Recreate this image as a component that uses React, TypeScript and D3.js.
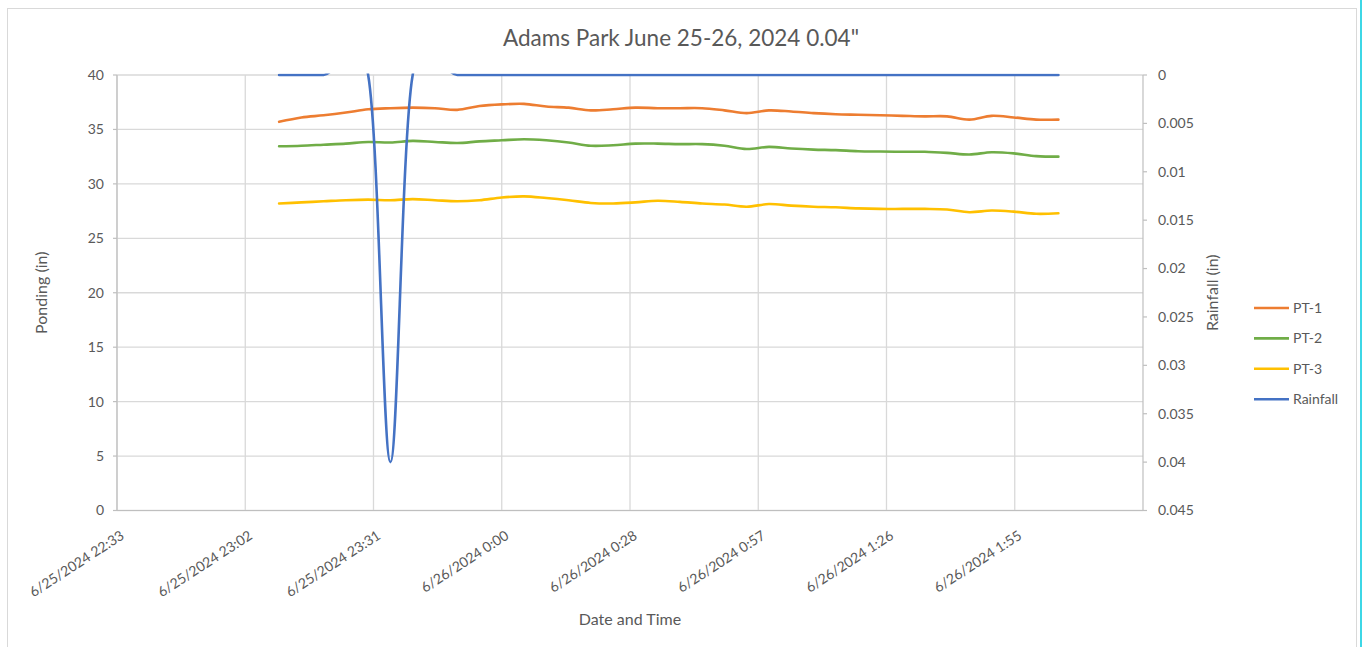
import React from 'react';
import * as d3 from 'd3';

const TITLE = 'Adams Park June 25-26, 2024 0.04"';
const X_TITLE = 'Date and Time';
const Y_LEFT_TITLE = 'Ponding (in)';
const Y_RIGHT_TITLE = 'Rainfall (in)';

const PT_TIMES = [
  '23:10', '23:15', '23:20', '23:25', '23:30', '23:35', '23:40', '23:45', '23:50', '23:55',
  '0:00', '0:05', '0:10', '0:15', '0:20', '0:25', '0:30', '0:35', '0:40', '0:45',
  '0:50', '0:55', '1:00', '1:05', '1:10', '1:15', '1:20', '1:25', '1:30', '1:35',
  '1:40', '1:45', '1:50', '1:55', '2:00', '2:05',
];
const PT1 = [
  35.7, 36.1, 36.3, 36.55, 36.85, 36.95, 37.0, 36.95, 36.8, 37.15,
  37.3, 37.35, 37.1, 37.0, 36.75, 36.85, 37.0, 36.95, 36.95, 36.95,
  36.75, 36.5, 36.75, 36.65, 36.5, 36.4, 36.35, 36.3, 36.25, 36.2,
  36.2, 35.9, 36.25, 36.1, 35.9, 35.9,
];
const PT2 = [
  33.45, 33.5, 33.6, 33.7, 33.85, 33.8, 33.95, 33.85, 33.75, 33.9,
  34.0, 34.1, 34.0, 33.8, 33.5, 33.55, 33.7, 33.7, 33.65, 33.65,
  33.5, 33.2, 33.4, 33.25, 33.15, 33.1, 33.0, 32.97, 32.95, 32.95,
  32.85, 32.7, 32.9, 32.8, 32.55, 32.5,
];
const PT3 = [
  28.2, 28.3, 28.4, 28.5, 28.55, 28.5, 28.6, 28.5, 28.4, 28.5,
  28.75, 28.85, 28.7, 28.5, 28.25, 28.2, 28.3, 28.45, 28.35, 28.2,
  28.1, 27.9, 28.15, 28.0, 27.9, 27.85, 27.75, 27.7, 27.7, 27.7,
  27.65, 27.4, 27.55, 27.45, 27.25, 27.3,
];
const RAIN_TIMES = [
  '23:10', '23:20', '23:30', '23:35', '23:40', '23:50', '0:00', '0:10', '0:20', '0:30',
  '0:40', '0:50', '1:00', '1:10', '1:20', '1:30', '1:40', '1:50', '2:00', '2:05',
];
const RAIN = [
  0, 0, 0, 0.04, 0, 0, 0, 0, 0, 0,
  0, 0, 0, 0, 0, 0, 0, 0, 0, 0,
];

const X_DOMAIN = ['2024-06-25T22:33:36', '2024-06-26T02:24:00'];
const X_TICKS = [
  '2024-06-25T22:33:36', '2024-06-25T23:02:24', '2024-06-25T23:31:12', '2024-06-26T00:00:00',
  '2024-06-26T00:28:48', '2024-06-26T00:57:36', '2024-06-26T01:26:24', '2024-06-26T01:55:12',
];
const Y_LEFT_TICKS = [0, 5, 10, 15, 20, 25, 30, 35, 40];
const Y_RIGHT_TICKS = [0, 0.005, 0.01, 0.015, 0.02, 0.025, 0.03, 0.035, 0.04, 0.045];

const SERIES = [
  { name: 'PT-1', color: '#ED7D31' },
  { name: 'PT-2', color: '#70AD47' },
  { name: 'PT-3', color: '#FFC000' },
  { name: 'Rainfall', color: '#4472C4' },
];

const W = 1362;
const H = 647;
const PL = 117;
const PR = 1143;
const PT = 75;
const PB = 510.5;
const FONT = 'Lato, "Open Sans", sans-serif';
const TEXT = '#595959';

function toDate(t: string): Date {
  const [h, m] = t.split(':').map(Number);
  return h >= 12 ? new Date(2024, 5, 25, h, m) : new Date(2024, 5, 26, h, m);
}

export default function App() {
  const x = d3.scaleTime().domain(X_DOMAIN.map((s) => new Date(s))).range([PL, PR]);
  const yL = d3.scaleLinear().domain([0, 40]).range([PB, PT]);
  const yR = d3.scaleLinear().domain([0, 0.045]).range([PT, PB]);
  const fmt = d3.timeFormat('%-m/%-d/%Y %-H:%M');
  const curve = d3.curveCardinal.tension(0);

  const lineL = d3
    .line<[Date, number]>()
    .x((d) => x(d[0]))
    .y((d) => yL(d[1]))
    .curve(curve);
  const lineR = d3
    .line<[Date, number]>()
    .x((d) => x(d[0]))
    .y((d) => yR(d[1]))
    .curve(curve);

  const ptDates = PT_TIMES.map(toDate);
  const paths = [
    lineL(ptDates.map((d, i) => [d, PT1[i]] as [Date, number])),
    lineL(ptDates.map((d, i) => [d, PT2[i]] as [Date, number])),
    lineL(ptDates.map((d, i) => [d, PT3[i]] as [Date, number])),
    lineR(RAIN_TIMES.map((t, i) => [toDate(t), RAIN[i]] as [Date, number])),
  ];

  const xTicks = X_TICKS.map((s) => new Date(s));
  const angle = -33;

  return (
    <svg
      width={W}
      height={H}
      style={{ position: 'absolute', left: 0, top: 0, display: 'block', background: '#fff' }}
      fontFamily={FONT}
    >
      <defs>
        <clipPath id="plotclip">
          <rect x={PL} y={PT - 1.5} width={PR - PL} height={PB - PT + 1.5} />
        </clipPath>
      </defs>
      <rect x={0} y={0} width={W} height={H} fill="#fff" />
      <rect x={7.5} y={8.5} width={1349} height={660} fill="#fff" stroke="#d9d9d9" strokeWidth={1} />
      <line x1={1361} x2={1361} y1={0} y2={H} stroke="#3dd7e6" strokeWidth={2} />

      <text x={681} y={46} textAnchor="middle" fontSize={22.5} fill={TEXT}>
        {TITLE}
      </text>

      {/* horizontal gridlines */}
      {Y_LEFT_TICKS.map((v) => (
        <line key={'h' + v} x1={PL} x2={PR} y1={yL(v)} y2={yL(v)} stroke="#d9d9d9" strokeWidth={1.3} />
      ))}
      {/* vertical gridlines */}
      {xTicks.map((d, i) => (
        <line key={'v' + i} x1={x(d)} x2={x(d)} y1={PT} y2={PB} stroke="#d9d9d9" strokeWidth={1.3} />
      ))}

      {/* axes */}
      <line x1={PL} x2={PL} y1={PT} y2={PB} stroke="#bfbfbf" strokeWidth={1.2} />
      <line x1={PR} x2={PR} y1={PT} y2={PB} stroke="#bfbfbf" strokeWidth={1.2} />
      <line x1={PL} x2={PR} y1={PB} y2={PB} stroke="#bfbfbf" strokeWidth={1.2} />
      {Y_LEFT_TICKS.map((v) => (
        <line key={'lt' + v} x1={PL - 4} x2={PL} y1={yL(v)} y2={yL(v)} stroke="#bfbfbf" strokeWidth={1.2} />
      ))}
      {Y_RIGHT_TICKS.map((v) => (
        <line key={'rt' + v} x1={PR} x2={PR + 4} y1={yR(v)} y2={yR(v)} stroke="#bfbfbf" strokeWidth={1.2} />
      ))}

      {/* left tick labels */}
      {Y_LEFT_TICKS.map((v) => (
        <text key={'ll' + v} x={104} y={yL(v)} dy="0.35em" textAnchor="end" fontSize={14} fill={TEXT}>
          {v}
        </text>
      ))}
      {/* right tick labels */}
      {Y_RIGHT_TICKS.map((v) => (
        <text key={'rl' + v} x={1158} y={yR(v)} dy="0.35em" textAnchor="start" fontSize={14} fill={TEXT}>
          {String(+v.toFixed(3))}
        </text>
      ))}
      {/* x tick labels */}
      {xTicks.map((d, i) => (
        <text
          key={'xl' + i}
          transform={`translate(${x(d) + 8},${538}) rotate(${angle})`}
          textAnchor="end"
          fontSize={14}
          fill={TEXT}
        >
          {fmt(d)}
        </text>
      ))}

      {/* axis titles */}
      <text x={630} y={625} textAnchor="middle" fontSize={16} fill={TEXT}>
        {X_TITLE}
      </text>
      <text transform={`translate(47,${(PT + PB) / 2}) rotate(-90)`} textAnchor="middle" fontSize={16} fill={TEXT}>
        {Y_LEFT_TITLE}
      </text>
      <text transform={`translate(1218,${(PT + PB) / 2}) rotate(-90)`} textAnchor="middle" fontSize={16} fill={TEXT}>
        {Y_RIGHT_TITLE}
      </text>

      {/* series */}
      <g clipPath="url(#plotclip)">
        {paths.map((p, i) => (
          <path
            key={'s' + i}
            d={p || ''}
            fill="none"
            stroke={SERIES[i].color}
            strokeWidth={2.6}
            strokeLinecap="round"
            strokeLinejoin="round"
          />
        ))}
      </g>

      {/* legend */}
      {SERIES.map((s, i) => {
        const ly = 308 + i * 30.4;
        return (
          <g key={'lg' + i}>
            <line x1={1254} x2={1289} y1={ly} y2={ly} stroke={s.color} strokeWidth={2.6} />
            <text x={1293} y={ly} dy="0.35em" fontSize={14} fill={TEXT}>
              {s.name}
            </text>
          </g>
        );
      })}
    </svg>
  );
}
